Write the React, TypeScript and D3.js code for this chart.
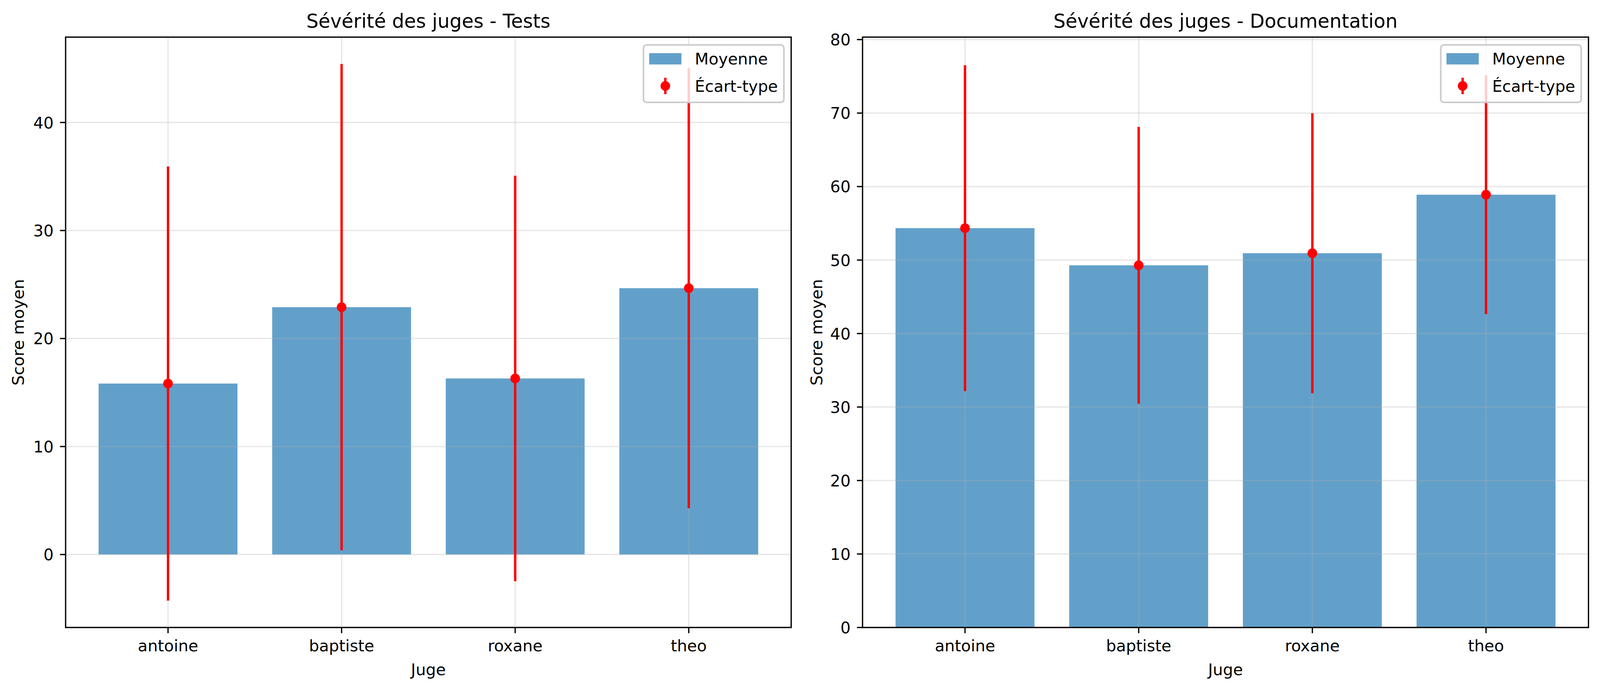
import * as d3 from 'd3';
import { useEffect, useRef } from 'react';

const judges = ['antoine', 'baptiste', 'roxane', 'theo'];

const testsMean = [15.83, 22.9, 16.3, 24.66];
const testsStd = [20.1, 22.52, 18.77, 20.37];
const testsTicks = [0, 10, 20, 30, 40];

const docMean = [54.34, 49.28, 50.93, 58.89];
const docStd = [22.17, 18.84, 19.05, 16.25];
const docTicks = [0, 10, 20, 30, 40, 50, 60, 70, 80];

const panelTitles = ['Sévérité des juges - Tests', 'Sévérité des juges - Documentation'];
const legendLabels = ['Moyenne', 'Écart-type'];

const width = 4170;
const height = 1766;
const top = 95;
const bottom = 1606;
const pt = 300 / 72;
const font = '"DejaVu Sans", sans-serif';
const barColor = '#1f77b4';

type Panel = {
    left: number;
    right: number;
    mean: number[];
    std: number[];
    ticks: number[];
    title: string;
    ylabelX: number;
};

const panels: Panel[] = [
    { left: 171, right: 2062, mean: testsMean, std: testsStd, ticks: testsTicks, title: panelTitles[0], ylabelX: 62 },
    { left: 2248, right: 4140, mean: docMean, std: docStd, ticks: docTicks, title: panelTitles[1], ylabelX: 2143 },
];

function drawPanel(svg: any, p: Panel) {
    const lows = p.mean.map((m, i) => m - p.std[i]);
    const highs = p.mean.map((m, i) => m + p.std[i]);
    const dMin = Math.min(0, d3.min(lows)!);
    const dMax = d3.max(highs)!;
    const span = dMax - dMin;
    // bars stick to 0 like matplotlib when nothing goes below
    const yLo = dMin >= 0 ? 0 : dMin - 0.05 * span;
    const yHi = dMax + 0.05 * span;

    const xScale = d3.scaleLinear().domain([-0.59, 3.59]).range([p.left, p.right]);
    const yScale = d3.scaleLinear().domain([yLo, yHi]).range([bottom, top]);

    const g = svg.append('g');

    // bars
    g.selectAll('.bar')
        .data(p.mean)
        .enter()
        .append('rect')
        .attr('class', 'bar')
        .attr('x', (_d: number, i: number) => xScale(i - 0.4))
        .attr('width', xScale(0.8) - xScale(0))
        .attr('y', (d: number) => yScale(Math.max(d, 0)))
        .attr('height', (d: number) => Math.abs(yScale(0) - yScale(d)))
        .attr('fill', barColor)
        .attr('fill-opacity', 0.7);

    // grid
    g.selectAll('.hgrid')
        .data(p.ticks)
        .enter()
        .append('line')
        .attr('x1', p.left).attr('x2', p.right)
        .attr('y1', (d: number) => yScale(d)).attr('y2', (d: number) => yScale(d))
        .attr('stroke', '#b0b0b0').attr('stroke-opacity', 0.3).attr('stroke-width', 0.8 * pt);
    g.selectAll('.vgrid')
        .data(judges)
        .enter()
        .append('line')
        .attr('x1', (_d: string, i: number) => xScale(i)).attr('x2', (_d: string, i: number) => xScale(i))
        .attr('y1', top).attr('y2', bottom)
        .attr('stroke', '#b0b0b0').attr('stroke-opacity', 0.3).attr('stroke-width', 0.8 * pt);

    // error bars
    g.selectAll('.err')
        .data(p.mean)
        .enter()
        .append('line')
        .attr('x1', (_d: number, i: number) => xScale(i)).attr('x2', (_d: number, i: number) => xScale(i))
        .attr('y1', (_d: number, i: number) => yScale(lows[i]))
        .attr('y2', (_d: number, i: number) => yScale(highs[i]))
        .attr('stroke', 'red').attr('stroke-width', 1.5 * pt);
    g.selectAll('.dot')
        .data(p.mean)
        .enter()
        .append('circle')
        .attr('cx', (_d: number, i: number) => xScale(i))
        .attr('cy', (d: number) => yScale(d))
        .attr('r', 3 * pt)
        .attr('fill', 'red');

    // frame
    g.append('rect')
        .attr('x', p.left).attr('y', top)
        .attr('width', p.right - p.left).attr('height', bottom - top)
        .attr('fill', 'none').attr('stroke', 'black').attr('stroke-width', 0.8 * pt);

    // y ticks
    const yt = g.selectAll('.ytick').data(p.ticks).enter().append('g')
        .attr('transform', (d: number) => `translate(${p.left},${yScale(d)})`);
    yt.append('line').attr('x1', -3.5 * pt).attr('x2', 0).attr('stroke', 'black').attr('stroke-width', 0.8 * pt);
    yt.append('text')
        .attr('x', -7.5 * pt).attr('dy', '0.36em')
        .attr('text-anchor', 'end')
        .attr('font-family', font).attr('font-size', 10 * pt)
        .text((d: number) => d3.format('d')(d));

    // x ticks
    const xt = g.selectAll('.xtick').data(judges).enter().append('g')
        .attr('transform', (_d: string, i: number) => `translate(${xScale(i)},${bottom})`);
    xt.append('line').attr('y1', 0).attr('y2', 3.5 * pt).attr('stroke', 'black').attr('stroke-width', 0.8 * pt);
    xt.append('text')
        .attr('y', 7 * pt).attr('dy', '0.76em')
        .attr('text-anchor', 'middle')
        .attr('font-family', font).attr('font-size', 10 * pt)
        .text((d: string) => d);

    const cx = (p.left + p.right) / 2;
    g.append('text')
        .attr('x', cx).attr('y', 1728)
        .attr('text-anchor', 'middle')
        .attr('font-family', font).attr('font-size', 10 * pt)
        .text('Juge');
    g.append('text')
        .attr('transform', `translate(${p.ylabelX},${(top + bottom) / 2}) rotate(-90)`)
        .attr('text-anchor', 'middle')
        .attr('font-family', font).attr('font-size', 10 * pt)
        .text('Score moyen');
    g.append('text')
        .attr('x', cx).attr('y', 71)
        .attr('text-anchor', 'middle')
        .attr('font-family', font).attr('font-size', 12 * pt)
        .text(p.title);

    // legend
    const lx = p.right - 385;
    const ly = 115;
    const lg = g.append('g').attr('transform', `translate(${lx},${ly})`);
    lg.append('rect')
        .attr('width', 366).attr('height', 147).attr('rx', 8)
        .attr('fill', 'white').attr('fill-opacity', 0.8)
        .attr('stroke', '#cccccc').attr('stroke-width', pt);
    lg.append('rect')
        .attr('x', 15).attr('y', 21).attr('width', 84).attr('height', 29)
        .attr('fill', barColor).attr('fill-opacity', 0.7);
    lg.append('line')
        .attr('x1', 57).attr('x2', 57).attr('y1', 84).attr('y2', 126)
        .attr('stroke', 'red').attr('stroke-width', 1.5 * pt);
    lg.append('circle').attr('cx', 57).attr('cy', 105).attr('r', 3 * pt).attr('fill', 'red');
    lg.selectAll('.ltext')
        .data(legendLabels)
        .enter()
        .append('text')
        .attr('x', 134)
        .attr('y', (_d: string, i: number) => 50 + i * 70)
        .attr('font-family', font).attr('font-size', 10 * pt)
        .text((d: string) => d);
}

const App = () => {
    const ref = useRef<SVGSVGElement | null>(null);

    useEffect(() => {
        document.body.style.margin = '0';
        const svg = d3.select(ref.current);
        svg.selectAll('*').remove();
        svg.append('rect').attr('width', width).attr('height', height).attr('fill', 'white');
        panels.forEach(p => drawPanel(svg, p));
    }, [ref]);

    // the window can be a bit narrower than the figure, so fit it in
    return (
        <svg
            ref={ref}
            width="100%"
            height={height}
            viewBox={`0 0 ${width} ${height}`}
            preserveAspectRatio="none"
            style={{ display: 'block' }}
        />
    );
};

export default App;
